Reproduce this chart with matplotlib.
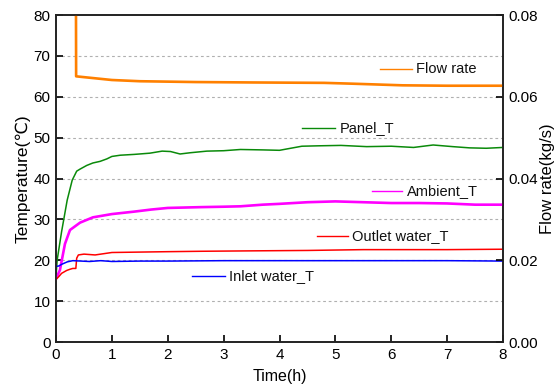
import matplotlib
matplotlib.use("Agg")
import matplotlib.pyplot as plt

plt.rcParams['font.family'] = ['Liberation Sans', 'DejaVu Sans']

# ---- data ----
panel_t = [0, 0.02, 0.1, 0.2, 0.29, 0.37, 0.43, 0.55, 0.66, 0.79, 0.91, 1.0, 1.15, 1.4, 1.68,
           1.9, 2.05, 2.22, 2.4, 2.7, 3.0, 3.3, 3.7, 4.0, 4.2, 4.4, 4.7, 5.1, 5.56, 6.0, 6.4,
           6.75, 7.1, 7.4, 7.7, 8.0]
panel_v = [16.0, 20.0, 27.0, 34.7, 39.6, 41.8, 42.3, 43.2, 43.8, 44.2, 44.8, 45.4, 45.7, 45.9, 46.2,
           46.7, 46.6, 46.0, 46.3, 46.7, 46.8, 47.1, 47.0, 46.9, 47.4, 47.9, 48.0, 48.1, 47.8, 47.9, 47.6,
           48.2, 47.8, 47.5, 47.4, 47.6]

amb_t = [0, 0.07, 0.16, 0.25, 0.43, 0.66, 1.0, 1.4, 1.7, 2.0, 2.3, 2.6, 3.0, 3.3, 3.7, 4.0,
         4.5, 5.0, 5.5, 6.0, 6.5, 7.0, 7.5, 8.0]
amb_v = [15.5, 17.6, 24.0, 27.4, 29.2, 30.5, 31.3, 31.9, 32.4, 32.8, 32.9, 33.0, 33.1, 33.2, 33.6, 33.8,
         34.2, 34.4, 34.2, 34.0, 34.0, 33.9, 33.6, 33.6]

out_t = [0, 0.05, 0.1, 0.19, 0.25, 0.3, 0.355, 0.37, 0.4, 0.5, 0.7, 0.85, 1.0, 1.5, 2.0, 2.6,
         3.5, 4.5, 5.5, 6.2, 7.0, 8.0]
out_v = [15.3, 16.0, 16.8, 17.5, 17.8, 18.0, 18.0, 20.5, 21.3, 21.5, 21.3, 21.6, 21.9, 22.0, 22.1, 22.2,
         22.3, 22.4, 22.6, 22.6, 22.6, 22.7]

in_t = [0, 0.05, 0.1, 0.2, 0.3, 0.45, 0.6, 0.8, 1.0, 1.5, 2.0, 3, 4, 5, 6, 7, 8]
in_v = [18.5, 18.6, 19.0, 19.6, 19.9, 19.8, 19.7, 19.9, 19.7, 19.8, 19.8, 19.9, 19.9, 19.9, 19.9, 19.9, 19.8]

flow_t = [0.355, 0.36, 0.5, 1.0, 1.5, 2.5, 3.5, 4.8, 5.3, 6.2, 7.0, 8.0]
flow_v = [0.095, 0.0650, 0.0648, 0.0641, 0.0638, 0.0636, 0.0635, 0.0634, 0.0632, 0.0628, 0.0627, 0.0627]

x_ticks = [0, 1, 2, 3, 4, 5, 6, 7, 8]
t_ticks = [0, 10, 20, 30, 40, 50, 60, 70, 80]
f_ticks = [0.00, 0.02, 0.04, 0.06, 0.08]

# ---- figure ----
fig = plt.figure(figsize=(5.59, 3.91), dpi=100)
ax = fig.add_axes([0.1002, 0.1253, 0.7996, 0.8363])
ax2 = ax.twinx()

c_flow = '#FF8000'
c_panel = '#0A8A0A'
c_amb = '#FF00FF'
c_out = '#FF0000'
c_in = '#0000FF'

ax.plot(panel_t, panel_v, color=c_panel, lw=1.1, zorder=3)
ax.plot(amb_t, amb_v, color=c_amb, lw=1.9, zorder=3)
ax.plot(out_t, out_v, color=c_out, lw=1.1, zorder=3)
ax.plot(in_t, in_v, color=c_in, lw=1.1, zorder=3)
ax2.plot(flow_t, flow_v, color=c_flow, lw=1.9)

ax.set_xlim(0, 8)
ax.set_ylim(0, 80)
ax2.set_ylim(0, 0.08)
ax.set_xticks(x_ticks)
ax.set_yticks(t_ticks)
ax2.set_yticks(f_ticks)
ax2.set_yticklabels(['%.2f' % v for v in f_ticks])

for y in t_ticks[1:-1]:
    ax.axhline(y, color='#b0b0b0', lw=0.8, ls=(0, (2.5, 2.5)), zorder=1)

for a in (ax, ax2):
    a.tick_params(direction='in', length=5, width=1.2, labelsize=11, pad=4)
    for s in a.spines.values():
        s.set_linewidth(1.2)
        s.set_color('#222222')
ax.tick_params(top=False)

ax.set_xlabel('Time(h)', fontsize=11.5, labelpad=5)
ax.set_ylabel('Temperature(℃)', fontsize=12.5, labelpad=2)
ax2.set_ylabel('Flow rate(kg/s)', fontsize=12, labelpad=1)

# in-plot labels
labels = [
    (5.8, 6.37, 66.7, 'Flow rate', c_flow),
    (4.4, 4.99, 52.3, 'Panel_T', c_panel),
    (5.65, 6.2, 36.9, 'Ambient_T', c_amb),
    (4.67, 5.22, 25.9, 'Outlet water_T', c_out),
    (2.43, 3.02, 16.1, 'Inlet water_T', c_in),
]
for x0, x1, yv, txt, col in labels:
    ax.plot([x0, x1], [yv, yv], color=col, lw=1.0, zorder=3)
    ax.text(x1 + 0.08, yv, txt, fontsize=10.5, va='center', ha='left', color='#111111')

fig.savefig('out.png', dpi=100)
